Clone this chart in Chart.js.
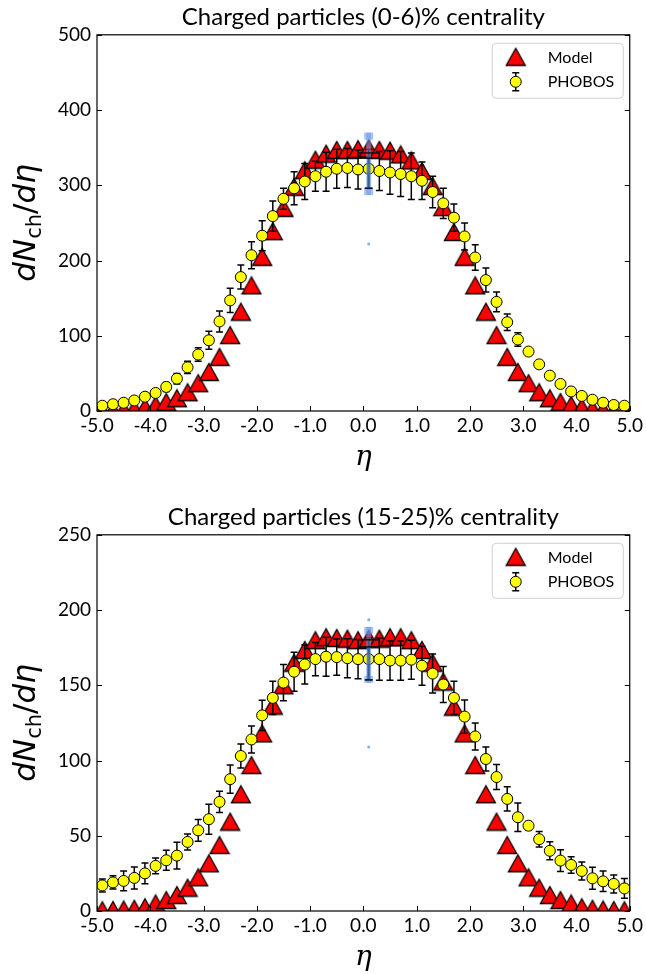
<!DOCTYPE html>
<html>
<head>
<meta charset="utf-8">
<script src="https://cdn.jsdelivr.net/npm/chart.js@4.4.0/dist/chart.umd.min.js"></script>
<style>
body { margin: 0; background: #fff; }
.panel { position: absolute; left: 0; width: 646px; }
</style>
</head>
<body>
<div class="panel" style="top:0;height:500px"><canvas id="top" width="646" height="500"></canvas></div>
<div class="panel" style="top:500px;height:474px"><canvas id="bottom" width="646" height="474"></canvas></div>
<script>
// pseudorapidity bins
var eta = [-4.9,-4.7,-4.5,-4.3,-4.1,-3.9,-3.7,-3.5,-3.3,-3.1,-2.9,-2.7,-2.5,-2.3,-2.1,-1.9,-1.7,-1.5,-1.3,-1.1,-0.9,-0.7,-0.5,-0.3,-0.1,
           0.1,0.3,0.5,0.7,0.9,1.1,1.3,1.5,1.7,1.9,2.1,2.3,2.5,2.7,2.9,3.1,3.3,3.5,3.7,3.9,4.1,4.3,4.5,4.7,4.9];

// (0-6)% centrality
var modelTop = [0.4,0.8,1.5,3,5,8,12,17,25,37,52,72,101,132,167,205,239,270,298,320,334,342,347,347,348,
                349,347,346,341,333,319,299,271,238,205,167,132,101,72,52,37,25,17,12,8,5,3,1.5,0.8,0.4];
var phobosTop = [7,9,11,14,19,24,32,43,58,75,94,119,147,178,207,233,259,282,296,305,312,318,322,323,321,
                 322,319,317,315,312,306,291,276,257,232,204,174,145,118,95,79,62,47,36,26,20,15,11,8,7];
var errTop = [2,2,3,3,4,5,6,7,8,9,12,14,16,16,18,20,20,14,22,24,20,26,26,26,26,
              26,26,29,30,31,25,21,20,18,18,17,16,13,11,9,3,2,2,2,2,2,2,2,2,2];

// (15-25)% centrality
var modelBot = [0.5,0.7,1,1.5,2.5,5,7.3,10.6,15.5,22.4,31.7,43.9,59.4,77.6,97,118,136.5,150,165,173.5,180,182,181.5,181,180,
                181,181,182,182,180,173.5,165,152.5,135.8,118,97,77.6,59.4,43.9,31.7,22.4,15.5,10.6,7.3,5,2.5,1.5,1,0.7,0.5];
var phobosBot = [17,19,20,22,25,30,33.7,36.8,45.9,53.6,61,72.5,87.6,103,114,130,141.6,151.8,159,163.8,167.4,169,168.7,168,167.4,
                 167.4,167.4,166.4,166.4,167,163,157.8,150.5,141.6,129.2,116,101,89,74.5,62.3,56.7,47.7,40,33.5,30.6,26.6,21.7,19.7,18,15];
var errBot = [4.3,4.4,6.6,7.3,6.9,5.2,6.6,8.9,5.3,7.2,10,7,9.4,8,9,10,11,12,13,13,11,13,12,13,13,
              14,14,13,13,13,13,13,12,11,11,9,8,8.3,8,9.4,2.8,5.2,6,7.2,5.5,6,7.3,6.8,6,6.6];

// stray highlighted marker near eta = 0.1
var blueEta = 0.1;
var blueTopOuter = [287, 370], blueTopInner = [296, 336], blueTopBox = [336, 343], blueTopDots = [222];
var blueBotOuter = [151.6, 188.8], blueBotInner = [153.6, 175.5], blueBotBox = [175.5, 180.2], blueBotDots = [193.5, 109];

var FONT = 'Lato';

// triangle marker centred on its bounding box, like matplotlib's "^"
var tri = document.createElement('canvas');
tri.width = 22; tri.height = 20;
(function() {
	var c = tri.getContext('2d');
	c.fillStyle = '#ff0000'; c.strokeStyle = '#000'; c.lineWidth = 1.3; c.lineJoin = 'miter';
	c.beginPath();
	c.moveTo(11, 1.5); c.lineTo(20.5, 18.5); c.lineTo(1.5, 18.5); c.closePath();
	c.fill(); c.stroke();
})();

function pts(ys) {
	var out = [];
	for (var i in eta) out.push({x: eta[i], y: ys[i]});
	return out;
}

function makeChart(id, title, ymax, model, phobos, err, outer, inner, box, dots) {
	var canvas = document.getElementById(id);
	var H = canvas.height;

	var overlay = {
		id: 'overlay',
		afterDatasetDraw: function(chart, args) {
			if (args.index !== 1) return;
			// error bars for PHOBOS, drawn between the model and the PHOBOS markers
			var ctx = chart.ctx, xs = chart.scales.x, ys = chart.scales.y, a = chart.chartArea;
			ctx.save();
			ctx.beginPath(); ctx.rect(a.left, a.top, a.right - a.left, a.bottom - a.top); ctx.clip();
			ctx.strokeStyle = '#000'; ctx.lineWidth = 1.5;
			for (var i = 0; i < eta.length; i++) {
				var x = xs.getPixelForValue(eta[i]);
				var y1 = ys.getPixelForValue(phobos[i] - err[i]);
				var y2 = ys.getPixelForValue(phobos[i] + err[i]);
				ctx.beginPath();
				ctx.moveTo(x, y1); ctx.lineTo(x, y2);
				ctx.moveTo(x - 3.5, y1); ctx.lineTo(x + 3.5, y1);
				ctx.moveTo(x - 3.5, y2); ctx.lineTo(x + 3.5, y2);
				ctx.stroke();
			}
			ctx.restore();
		},
		afterDatasetsDraw: function(chart) {
			var ctx = chart.ctx, xs = chart.scales.x, ys = chart.scales.y;
			var x = xs.getPixelForValue(blueEta);
			ctx.save();
			ctx.fillStyle = 'rgba(100,149,237,0.55)';
			var o1 = ys.getPixelForValue(outer[0]), o2 = ys.getPixelForValue(outer[1]);
			ctx.fillRect(x - 2.5, o2, 5, o1 - o2);
			ctx.fillRect(x - 4.5, o2, 9, 7);
			ctx.fillRect(x - 4.5, o1 - 7, 9, 7);
			var i1 = ys.getPixelForValue(inner[0]), i2 = ys.getPixelForValue(inner[1]);
			ctx.fillStyle = 'rgba(60,100,170,0.8)';
			ctx.fillRect(x - 1.5, i2, 3, i1 - i2);
			ctx.strokeStyle = '#111'; ctx.lineWidth = 1.5;
			ctx.beginPath(); ctx.moveTo(x - 4, i1); ctx.lineTo(x + 4, i1); ctx.stroke();
			var b1 = ys.getPixelForValue(box[0]), b2 = ys.getPixelForValue(box[1]);
			var bl = xs.getPixelForValue(blueEta - 0.2), br = xs.getPixelForValue(blueEta + 0.2);
			ctx.strokeRect(bl, b2, br - bl, b1 - b2);
			ctx.fillStyle = 'rgba(100,149,237,0.8)';
			for (var k = 0; k < dots.length; k++) {
				ctx.beginPath(); ctx.arc(x, ys.getPixelForValue(dots[k]), 1.5, 0, Math.PI * 2); ctx.fill();
			}
			ctx.restore();
		},
		afterDraw: function(chart) {
			var ctx = chart.ctx, a = chart.chartArea, xs = chart.scales.x, ys = chart.scales.y;
			ctx.save();
			// frame and inward ticks
			ctx.strokeStyle = '#000'; ctx.lineWidth = 1.2;
			ctx.strokeRect(a.left, a.top, a.right - a.left, a.bottom - a.top);
			ctx.lineWidth = 1;
			ctx.beginPath();
			ys.ticks.forEach(function(t) {
				var y = Math.round(ys.getPixelForValue(t.value)) + 0.5;
				ctx.moveTo(a.left, y); ctx.lineTo(a.left + 5, y);
				ctx.moveTo(a.right, y); ctx.lineTo(a.right - 5, y);
			});
			xs.ticks.forEach(function(t) {
				var x = Math.round(xs.getPixelForValue(t.value)) + 0.5;
				ctx.moveTo(x, a.bottom); ctx.lineTo(x, a.bottom - 5);
			});
			ctx.stroke();

			// axis titles
			ctx.fillStyle = '#000';
			ctx.textAlign = 'center'; ctx.textBaseline = 'middle';
			ctx.font = 'italic 28px "DejaVu Serif"';
			ctx.fillText('\u03b7', (a.left + a.right) / 2, a.bottom + 47);

			ctx.save();
			ctx.translate(35, (a.top + a.bottom) / 2);
			ctx.rotate(-Math.PI / 2);
			ctx.textAlign = 'left'; ctx.textBaseline = 'alphabetic';
			var parts = [
				{t: 'd', f: 'italic 31px "DejaVu Sans"', dy: 0},
				{t: 'N', f: 'italic 31px "DejaVu Sans"', dy: 0},
				{t: 'ch', f: '21px "DejaVu Sans"', dy: 6},
				{t: '/', f: '31px "DejaVu Sans"', dy: 0},
				{t: 'd', f: 'italic 31px "DejaVu Sans"', dy: 0},
				{t: '\u03b7', f: 'italic 31px "DejaVu Sans"', dy: 0}
			];
			var w = 0;
			parts.forEach(function(p) { ctx.font = p.f; p.w = ctx.measureText(p.t).width; w += p.w; });
			var cx = -w / 2;
			parts.forEach(function(p) { ctx.font = p.f; ctx.fillText(p.t, cx, p.dy); cx += p.w; });
			ctx.restore();

			// legend
			var lx = a.right - 138, ly = a.top + 8, lw = 131, lh = 55;
			ctx.fillStyle = 'rgba(255,255,255,0.85)';
			ctx.strokeStyle = '#d0d0d0'; ctx.lineWidth = 1;
			ctx.beginPath();
			ctx.roundRect(lx + 0.5, ly + 0.5, lw, lh, 4);
			ctx.fill(); ctx.stroke();
			var mx = lx + 24;
			ctx.drawImage(tri, mx - 11, ly + 14 - 10);
			ctx.strokeStyle = '#000'; ctx.lineWidth = 1.5;
			ctx.beginPath();
			ctx.moveTo(mx, ly + 30); ctx.lineTo(mx, ly + 48);
			ctx.moveTo(mx - 3.5, ly + 30); ctx.lineTo(mx + 3.5, ly + 30);
			ctx.moveTo(mx - 3.5, ly + 48); ctx.lineTo(mx + 3.5, ly + 48);
			ctx.stroke();
			ctx.fillStyle = '#ffff00'; ctx.lineWidth = 1;
			ctx.beginPath(); ctx.arc(mx, ly + 39, 5.5, 0, Math.PI * 2); ctx.fill(); ctx.stroke();
			ctx.fillStyle = '#000';
			ctx.textAlign = 'left'; ctx.textBaseline = 'middle';
			ctx.font = '16px ' + FONT;
			ctx.fillText('Model', lx + 56, ly + 15);
			ctx.fillText('PHOBOS', lx + 56, ly + 39);
			ctx.restore();
		}
	};

	return new Chart(canvas, {
		type: 'scatter',
		data: {
			datasets: [
				{
					label: 'PHOBOS',
					data: pts(phobos),
					pointStyle: 'circle',
					pointRadius: 5.5,
					pointHoverRadius: 5.5,
					backgroundColor: '#ffff00',
					borderColor: '#000',
					borderWidth: 1
				},
				{
					label: 'Model',
					data: pts(model),
					pointStyle: tri,
					pointRadius: 10,
					pointHoverRadius: 10,
					backgroundColor: '#ff0000',
					borderColor: '#000',
					borderWidth: 1
				}
			]
		},
		options: {
			responsive: false,
			animation: false,
			devicePixelRatio: 1,
			layout: { padding: { left: 0, right: 15, top: 0, bottom: 0 } },
			plugins: {
				legend: { display: false },
				tooltip: { enabled: false },
				title: {
					display: true,
					text: title,
					fullSize: false,
					color: '#000',
					font: { family: FONT, size: 24, weight: 'normal' },
					padding: { top: 3, bottom: 3 }
				}
			},
			scales: {
				x: {
					type: 'linear',
					min: -5, max: 5,
					grid: { display: false, drawTicks: false },
					border: { display: false },
					ticks: {
						stepSize: 1,
						autoSkip: false,
						maxRotation: 0,
						padding: 3,
						color: '#000',
						font: { family: FONT, size: 19 },
						callback: function(v) { return v.toFixed(1); }
					},
					afterFit: function(s) { s.height = H - 411; }
				},
				y: {
					min: 0, max: ymax,
					grid: { display: false, drawTicks: false },
					border: { display: false },
					ticks: {
						stepSize: ymax / 5,
						padding: 6,
						color: '#000',
						font: { family: FONT, size: 19 }
					},
					afterFit: function(s) { s.width = 97; }
				}
			}
		},
		plugins: [overlay]
	});
}

makeChart('top', 'Charged particles (0-6)% centrality', 500, modelTop, phobosTop, errTop,
	blueTopOuter, blueTopInner, blueTopBox, blueTopDots);
makeChart('bottom', 'Charged particles (15-25)% centrality', 250, modelBot, phobosBot, errBot,
	blueBotOuter, blueBotInner, blueBotBox, blueBotDots);
</script>
</body>
</html>
